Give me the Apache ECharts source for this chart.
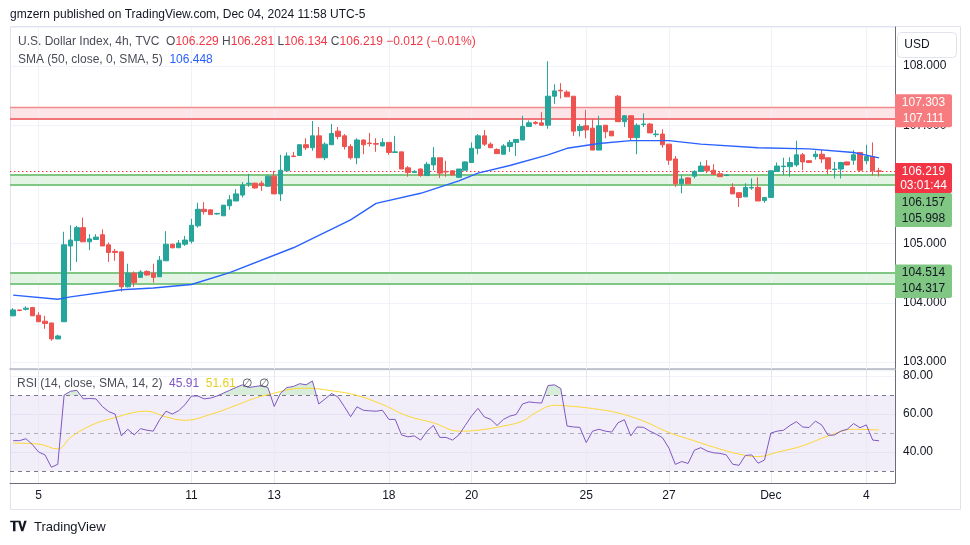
<!DOCTYPE html>
<html><head><meta charset="utf-8">
<script src="https://cdn.jsdelivr.net/npm/echarts@6/dist/echarts.min.js"></script>
<style>html,body{margin:0;padding:0;background:#fff}#c{width:970px;height:545px}</style>
</head><body><div id="c"></div>
<script>
// ---- data (4h candles, TVC:DXY) ----
const opens = [103.78,103.88,103.89,103.92,103.79,103.69,103.66,103.39,103.68,104.96,
105.05,105.27,105.03,105.07,105.15,104.98,104.87,104.86,104.27,104.50,
104.43,104.53,104.50,104.44,104.71,104.99,104.93,104.99,105.04,105.30,
105.58,105.57,105.50,105.47,105.64,105.72,105.82,106.01,106.02,106.02,
105.97,106.14,105.84,106.23,106.48,106.49,106.67,106.62,106.82,106.45,
106.67,106.90,106.82,106.64,106.45,106.75,106.70,106.69,106.65,106.71,
106.54,106.55,106.28,106.20,106.26,106.15,106.33,106.45,106.22,106.23,
106.12,106.24,106.37,106.61,106.82,106.68,106.59,106.51,106.64,106.71,
106.75,106.98,107.05,107.04,107.00,107.49,107.59,107.56,107.49,106.91,
106.99,106.95,106.58,107.00,106.90,107.49,107.06,107.16,106.79,107.01,
107.02,106.84,106.85,106.68,106.43,106.01,106.11,106.14,106.22,106.31,
106.24,106.18,106.15,105.95,105.86,105.79,105.94,105.95,105.73,105.78,
106.22,106.30,106.30,106.33,106.50,106.40,106.47,106.51,106.45,106.25,
106.26,106.38,106.41,106.54,106.40,106.47,106.229];
const highs = [103.91,103.88,103.94,103.93,103.84,103.78,103.66,103.46,105.20,105.31,
105.30,105.44,105.16,105.16,105.24,105.02,104.91,104.87,104.66,104.53,
104.55,104.55,104.66,104.79,105.21,105.00,105.06,105.13,105.42,105.69,
105.70,105.58,105.52,105.65,105.82,105.92,106.04,106.18,106.03,106.06,
106.15,106.23,106.50,106.54,106.55,106.68,106.78,107.07,106.97,106.71,
107.02,106.97,106.85,106.68,106.78,106.76,106.87,106.78,106.78,106.71,
106.82,106.55,106.31,106.24,106.27,106.38,106.63,106.45,106.40,106.24,
106.26,106.39,106.71,106.85,106.92,106.71,106.61,106.68,106.75,106.76,
107.16,107.08,107.07,107.22,108.08,107.69,107.71,107.59,107.49,107.02,
107.26,107.10,107.16,107.00,106.90,107.51,107.17,107.16,107.03,107.20,
107.04,106.92,106.93,106.68,106.48,106.16,106.12,106.24,106.38,106.41,
106.34,106.22,106.17,106.02,105.86,106.02,106.10,106.12,105.78,106.24,
106.37,106.45,106.46,106.74,106.53,106.41,106.57,106.58,106.45,106.38,
106.38,106.38,106.58,106.54,106.67,106.71,106.281];
const lows = [103.77,103.86,103.87,103.78,103.68,103.56,103.36,103.39,103.68,104.54,
104.69,105.03,104.89,105.07,104.96,104.69,104.71,104.19,104.26,104.27,
104.43,104.46,104.34,104.44,104.71,104.92,104.93,104.96,105.00,105.27,
105.49,105.49,105.49,105.47,105.57,105.72,105.78,105.96,105.93,105.89,
105.96,105.84,105.72,106.23,106.46,106.48,106.58,106.57,106.45,106.41,
106.67,106.76,106.59,106.42,106.34,106.51,106.64,106.55,106.64,106.50,
106.53,106.26,106.13,106.20,106.13,106.14,106.24,106.11,106.13,106.16,
106.12,106.24,106.37,106.51,106.65,106.62,106.52,106.51,106.55,106.48,
106.75,106.97,107.01,106.99,106.94,107.36,107.45,107.48,106.82,106.81,
106.78,106.58,106.58,106.78,106.82,107.06,106.97,106.75,106.51,106.97,
106.87,106.80,106.62,106.33,105.96,105.85,106.01,106.10,106.22,106.19,
106.17,106.13,106.15,105.84,105.62,105.79,105.91,105.72,105.69,105.78,
106.22,106.16,106.13,106.30,106.24,106.36,106.42,106.36,106.17,106.10,
106.10,106.32,106.33,106.21,106.34,106.15,106.134];
const closes = [103.88,103.87,103.91,103.78,103.68,103.65,103.39,103.44,104.98,105.06,
105.27,105.03,105.08,105.11,104.96,104.85,104.85,104.27,104.50,104.34,
104.52,104.47,104.43,104.72,104.99,104.93,105.01,105.06,105.31,105.58,
105.54,105.49,105.51,105.65,105.74,105.84,105.99,106.02,105.94,105.98,
106.14,105.84,106.24,106.48,106.47,106.67,106.62,106.82,106.45,106.68,
106.86,106.81,106.64,106.45,106.75,106.67,106.69,106.68,106.71,106.54,
106.55,106.26,106.20,106.22,106.15,106.34,106.45,106.19,106.21,106.16,
106.26,106.38,106.61,106.82,106.68,106.62,106.52,106.65,106.71,106.76,
106.98,107.04,107.03,107.00,107.49,107.58,107.58,107.48,106.90,106.98,
106.92,106.58,106.99,106.89,106.82,107.06,107.16,106.79,107.00,107.02,
106.87,106.85,106.67,106.41,106.01,106.09,106.01,106.22,106.31,106.23,
106.17,106.13,106.16,105.84,105.78,105.95,105.95,105.72,105.78,106.23,
106.31,106.31,106.37,106.50,106.38,106.37,106.51,106.43,106.26,106.26,
106.37,106.33,106.50,106.24,106.47,106.23,106.219];
// SMA(50) read at points along the line (candle index, value)
const smaIdx = [0,7,9,17,22,28,34,44,53,57,64,70,73,78,84,87,92,97,103,108,117,125,132,136];
const smaVal = [104.13,104.06,104.10,104.22,104.25,104.31,104.51,104.93,105.40,105.68,105.85,106.06,106.19,106.32,106.50,106.61,106.69,106.74,106.74,106.68,106.62,106.60,106.54,106.448];
// RSI(14)
const rsi = [46,46,47,44,40,38.5,32,33.5,70,72,
72.5,68,68.2,68,64,61.3,60,48.5,52,49,
52.3,51.5,51,57,61.5,60,61.8,65,69.5,69.5,
68,68.4,69.5,71,72.5,74,75.4,74,74.5,75,
74,64,71,74,74.5,76,75.4,77.4,65.3,68,
70.8,69,64,58.6,63.8,62,61.7,61.5,62,57.2,
57.2,49,48,48.5,46.3,51,54,47.7,47.7,46.3,
49,54,59,63,58.5,57.2,54,57.2,58.9,59.8,
65.3,66.4,66,65.8,75,75.4,73.5,53.7,53.2,53,
45,51,52,51,50.5,55.4,57,48.5,53.2,53,
51,49.4,47.5,42,33.5,35,34,41,42.3,40.5,
39.6,39.3,38.5,33.6,33,38.2,38.5,34.1,35.8,50,
51,51.5,54,56,53.2,52.9,56.3,54.2,48.8,49,
51,52,55,52.8,54.3,46.3,45.91];
// RSI-based MA read at points (candle index, value)
const rsiMaIdx = [0,4,7,9,12,15,21,24,27,31,35,38,41,44,46,50,54,58,62,66,70,73,77,80,82,85,88,91,95,99,103,107,111,115,117,120,124,128,132,136];
const rsiMaVal = [44.7,44.2,41.6,47.7,53.7,57.2,61.5,58.5,56.7,59.8,64.6,68.4,71,73.3,73.6,72.3,69.8,65,58.9,55.4,51,51.5,53.7,56.3,60.6,64.6,64,62.9,60.6,56.3,50.3,45.9,41.6,38.2,37.6,39.9,43.3,48.5,52,51.61];
// day labels on the time axis and the candle that opens each day
const dayLabels = ['5','11','13','18','20','25','27','Dec','4'];
const dayIdx = [4,28,41,59,72,90,103,119,134];
// horizontal zones and levels
const redZone = [107.111, 107.303];
const greenZones = [[105.998, 106.157], [104.317, 104.514]];
const lastPrice = 106.219;
const rsiBands = [30, 50, 70];

// ---- build ----
const N = opens.length, SLOTS = N + 2;
const cats = Array.from({length: SLOTS}, (_, i) => String(i));
const dayAt = {}; dayIdx.forEach((ix, k) => dayAt[ix] = dayLabels[k]);
const ohlc = opens.map((o, i) => [o, closes[i], lows[i], highs[i]]);
const sma = new Array(N).fill(null); smaIdx.forEach((ix, k) => sma[ix] = smaVal[k]);
const rsiMa = new Array(N).fill(null); rsiMaIdx.forEach((ix, k) => rsiMa[ix] = rsiMaVal[k]);
const FONT = 'Liberation Sans, Arial, sans-serif';
const UP = '#26a69a', DN = '#ef5350';

const vLines = dayIdx.map(ix => ({xAxis: ix, lineStyle: {color: '#eef1f7', width: 1, type: 'solid'}}));
const zoneLines = [
  {yAxis: redZone[1], lineStyle: {color: '#f28b8e', width: 1.3, type: 'solid'}},
  {yAxis: redZone[0], lineStyle: {color: '#f0767b', width: 2.2, type: 'solid'}},
];
greenZones.forEach(z => { zoneLines.push({yAxis: z[0], lineStyle: {color: '#81c784', width: 2, type: 'solid'}}); zoneLines.push({yAxis: z[1], lineStyle: {color: '#81c784', width: 2, type: 'solid'}}); });
zoneLines.push({yAxis: lastPrice, lineStyle: {color: '#f23645', width: 1, type: [1.5, 2.5]}});

// overbought fill (RSI above upper band), drawn through the axis scales
function obFill(params, api) {
  const i = params.dataIndex;
  if (i >= N - 1) return null;
  const L = rsiBands[2], r0 = rsi[i], r1 = rsi[i + 1];
  if (r0 <= L && r1 <= L) return null;
  const p0 = api.coord([i, r0]), p1 = api.coord([i + 1, r1]);
  const b0 = api.coord([i, L]), b1 = api.coord([i + 1, L]);
  let pts;
  if (r0 > L && r1 > L) pts = [b0, p0, p1, b1];
  else {
    const t = (L - r0) / (r1 - r0);
    const xc = p0[0] + t * (p1[0] - p0[0]);
    pts = r0 > L ? [b0, p0, [xc, b0[1]]] : [[xc, b0[1]], p1, b1];
  }
  return {type: 'polygon', shape: {points: pts}, style: {fill: 'rgba(76,175,80,0.22)'}};
}

const axisLab = {color: '#131722', fontSize: 12, fontFamily: FONT, margin: 8};
const chart = echarts.init(document.getElementById('c'));
chart.setOption({
  animation: false,
  backgroundColor: '#ffffff',
  grid: [
    {left: 10, right: 75, top: 27, height: 342},
    {left: 10, right: 75, top: 370, height: 113}
  ],
  xAxis: [
    {type: 'category', gridIndex: 0, data: cats, boundaryGap: true,
     axisLine: {show: true, lineStyle: {color: '#b2b5be', width: 1.5}}, axisTick: {show: false}, axisLabel: {show: false}, splitLine: {show: false}},
    {type: 'category', gridIndex: 1, data: cats, boundaryGap: true,
     axisLine: {show: true, lineStyle: {color: '#6a6d78', width: 1}}, axisTick: {show: false},
     axisLabel: Object.assign({}, axisLab, {margin: 7, interval: (i) => dayAt[i] !== undefined, formatter: (v, i) => dayAt[i] || ''}),
     splitLine: {show: false}}
  ],
  yAxis: [
    {type: 'value', gridIndex: 0, position: 'right', min: 102.882, max: 108.659, splitNumber: 5, scale: true,
     axisLine: {show: true, lineStyle: {color: '#6a6d78'}}, axisTick: {show: false},
     axisLabel: Object.assign({}, axisLab, {formatter: v => v.toFixed(3), showMinLabel: false, showMaxLabel: false}),
     splitLine: {lineStyle: {color: '#f0f3fa'}}},
    {type: 'value', gridIndex: 1, position: 'right', min: 23.7, max: 83.2, splitNumber: 3,
     axisLine: {show: true, lineStyle: {color: '#6a6d78'}}, axisTick: {show: false},
     axisLabel: Object.assign({}, axisLab, {formatter: v => v.toFixed(2), showMinLabel: false, showMaxLabel: false}),
     splitLine: {lineStyle: {color: '#f0f3fa'}}}
  ],
  series: [
    {type: 'candlestick', name: 'DXY', xAxisIndex: 0, yAxisIndex: 0, data: ohlc, barWidth: 5, z: 3,
     itemStyle: {color: UP, color0: DN, borderColor: UP, borderColor0: DN, borderWidth: 1},
     markArea: {silent: true, z: 1, itemStyle: {color: 'rgba(242,54,69,0.13)'},
       data: [
         [{yAxis: redZone[0]}, {yAxis: redZone[1]}],
         [{yAxis: greenZones[0][0], itemStyle: {color: 'rgba(129,199,132,0.22)'}}, {yAxis: greenZones[0][1]}],
         [{yAxis: greenZones[1][0], itemStyle: {color: 'rgba(129,199,132,0.22)'}}, {yAxis: greenZones[1][1]}]
       ]},
     markLine: {silent: true, z: 1, symbol: 'none', label: {show: false}, animation: false, data: vLines.concat(zoneLines)}
    },
    {type: 'line', name: 'SMA', xAxisIndex: 0, yAxisIndex: 0, data: sma, connectNulls: true, showSymbol: false, symbol: 'none', z: 4,
     lineStyle: {color: '#2962ff', width: 1.4}},
    {type: 'line', name: 'RSI', xAxisIndex: 1, yAxisIndex: 1, data: rsi, showSymbol: false, symbol: 'none', z: 4,
     lineStyle: {color: '#7e57c2', width: 1},
     markArea: {silent: true, z: 1, itemStyle: {color: 'rgba(126,87,194,0.1)'}, data: [[{yAxis: rsiBands[0]}, {yAxis: rsiBands[2]}]]},
     markLine: {silent: true, z: 2, symbol: 'none', label: {show: false}, animation: false,
       data: dayIdx.map(ix => ({xAxis: ix, lineStyle: {color: '#eae8f3', width: 1, type: 'solid'}})).concat([
         {yAxis: rsiBands[2], lineStyle: {color: '#787b86', width: 1, type: [4, 4]}},
         {yAxis: rsiBands[1], lineStyle: {color: 'rgba(120,123,134,0.55)', width: 1, type: [4, 4]}},
         {yAxis: rsiBands[0], lineStyle: {color: '#787b86', width: 1, type: [4, 4]}}
       ])}
    },
    {type: 'line', name: 'RSI MA', xAxisIndex: 1, yAxisIndex: 1, data: rsiMa, connectNulls: true, smooth: 0.4, showSymbol: false, symbol: 'none', z: 3,
     lineStyle: {color: '#fdd835', width: 1}},
    {type: 'custom', name: 'RSI overbought fill', xAxisIndex: 1, yAxisIndex: 1, silent: true, z: 2,
     data: rsi.map((v, i) => [i, v]), encode: {x: 0, y: 1}, renderItem: obFill}
  ]
});

// ---- price tags, legends, frame ----
const py = v => chart.convertToPixel({yAxisIndex: 0}, v);
const TX = 923.5, TW = 57, TL = 895;
function tagBox(top, h, fill, lines, color) {
  const els = [{type: 'rect', z: 50, shape: {x: TL, y: top, width: TW, height: h, r: [0, 2, 2, 0]}, style: {fill: fill}}];
  lines.forEach(l => els.push({type: 'text', z: 51, style: {x: TX, y: l[1], text: l[0], fill: color, font: '12px ' + FONT, align: 'center', verticalAlign: 'middle'}}));
  return els;
}
const yR = py(redZone[0]);
const yC = py(lastPrice);
const cBottom = yC + 21.5;
const yG2 = py(greenZones[1][1]);
let g = [];
g = g.concat(tagBox(yR - 24.5, 33, '#f77c80', [[redZone[1].toFixed(3), yR - 16], [redZone[0].toFixed(3), yR]], '#ffffff'));
g = g.concat(tagBox(yC - 8.5, 30, '#f23645', [[lastPrice.toFixed(3), yC], ['03:01:44', yC + 14.5]], '#ffffff'));
g = g.concat(tagBox(cBottom, 34, '#81c784', [[greenZones[0][1].toFixed(3), cBottom + 9.5], [greenZones[0][0].toFixed(3), cBottom + 26]], '#131722'));
g = g.concat(tagBox(yG2 - 8, 33.5, '#81c784', [[greenZones[1][1].toFixed(3), yG2], [greenZones[1][0].toFixed(3), yG2 + 16.5]], '#131722'));
// frame and USD button
g.push({type: 'rect', z: 0, shape: {x: 10.5, y: 26.5, width: 950, height: 483}, style: {fill: 'none', stroke: '#e0e3eb', lineWidth: 1}});
g.push({type: 'rect', z: 50, shape: {x: 897.5, y: 32.5, width: 59, height: 25, r: 4}, style: {fill: '#ffffff', stroke: '#e0e3eb', lineWidth: 1}});
g.push({type: 'text', z: 51, style: {x: 917, y: 45, text: 'USD', fill: '#131722', font: '12px ' + FONT, align: 'center', verticalAlign: 'middle'}});
// header
g.push({type: 'text', z: 51, style: {x: 10, y: 15, text: 'gmzern published on TradingView.com, Dec 04, 2024 11:58 UTC-5', fill: '#131722', font: '12px ' + FONT, verticalAlign: 'middle'}});
const rich = {
  t: {fill: '#4a4d57', font: '12px ' + FONT},
  r: {fill: '#f23645', font: '12px ' + FONT},
  b: {fill: '#2962ff', font: '12px ' + FONT},
  p: {fill: '#7e57c2', font: '12px ' + FONT},
  y: {fill: '#e8cf1e', font: '12px ' + FONT}
};
g.push({type: 'text', z: 51, style: {x: 18, y: 42, verticalAlign: 'middle', rich: rich,
  text: '{t|U.S. Dollar Index, 4h, TVC}  {t|O}{r|106.229} {t|H}{r|106.281} {t|L}{r|106.134} {t|C}{r|106.219} {r|\u22120.012 (\u22120.01%)}'}});
g.push({type: 'text', z: 51, style: {x: 18, y: 60, verticalAlign: 'middle', rich: rich,
  text: '{t|SMA (50, close, 0, SMA, 5)}  {b|106.448}'}});
g.push({type: 'text', z: 51, style: {x: 17, y: 384, verticalAlign: 'middle', rich: rich,
  text: '{t|RSI (14, close, SMA, 14, 2)}  {p|45.91}  {y|51.61}  {t|\u2205}  {t|\u2205}'}});
// TradingView logo
g.push({type: 'text', z: 51, style: {x: 10, y: 527, text: '\u{1D413}\u{1D415}', fill: '#131722', font: 'bold 13px ' + FONT, verticalAlign: 'middle'}});
g.push({type: 'text', z: 51, style: {x: 34, y: 527, text: 'TradingView', fill: '#131722', font: '13px ' + FONT, verticalAlign: 'middle'}});
chart.setOption({graphic: {elements: g}});
</script>
</body></html>
